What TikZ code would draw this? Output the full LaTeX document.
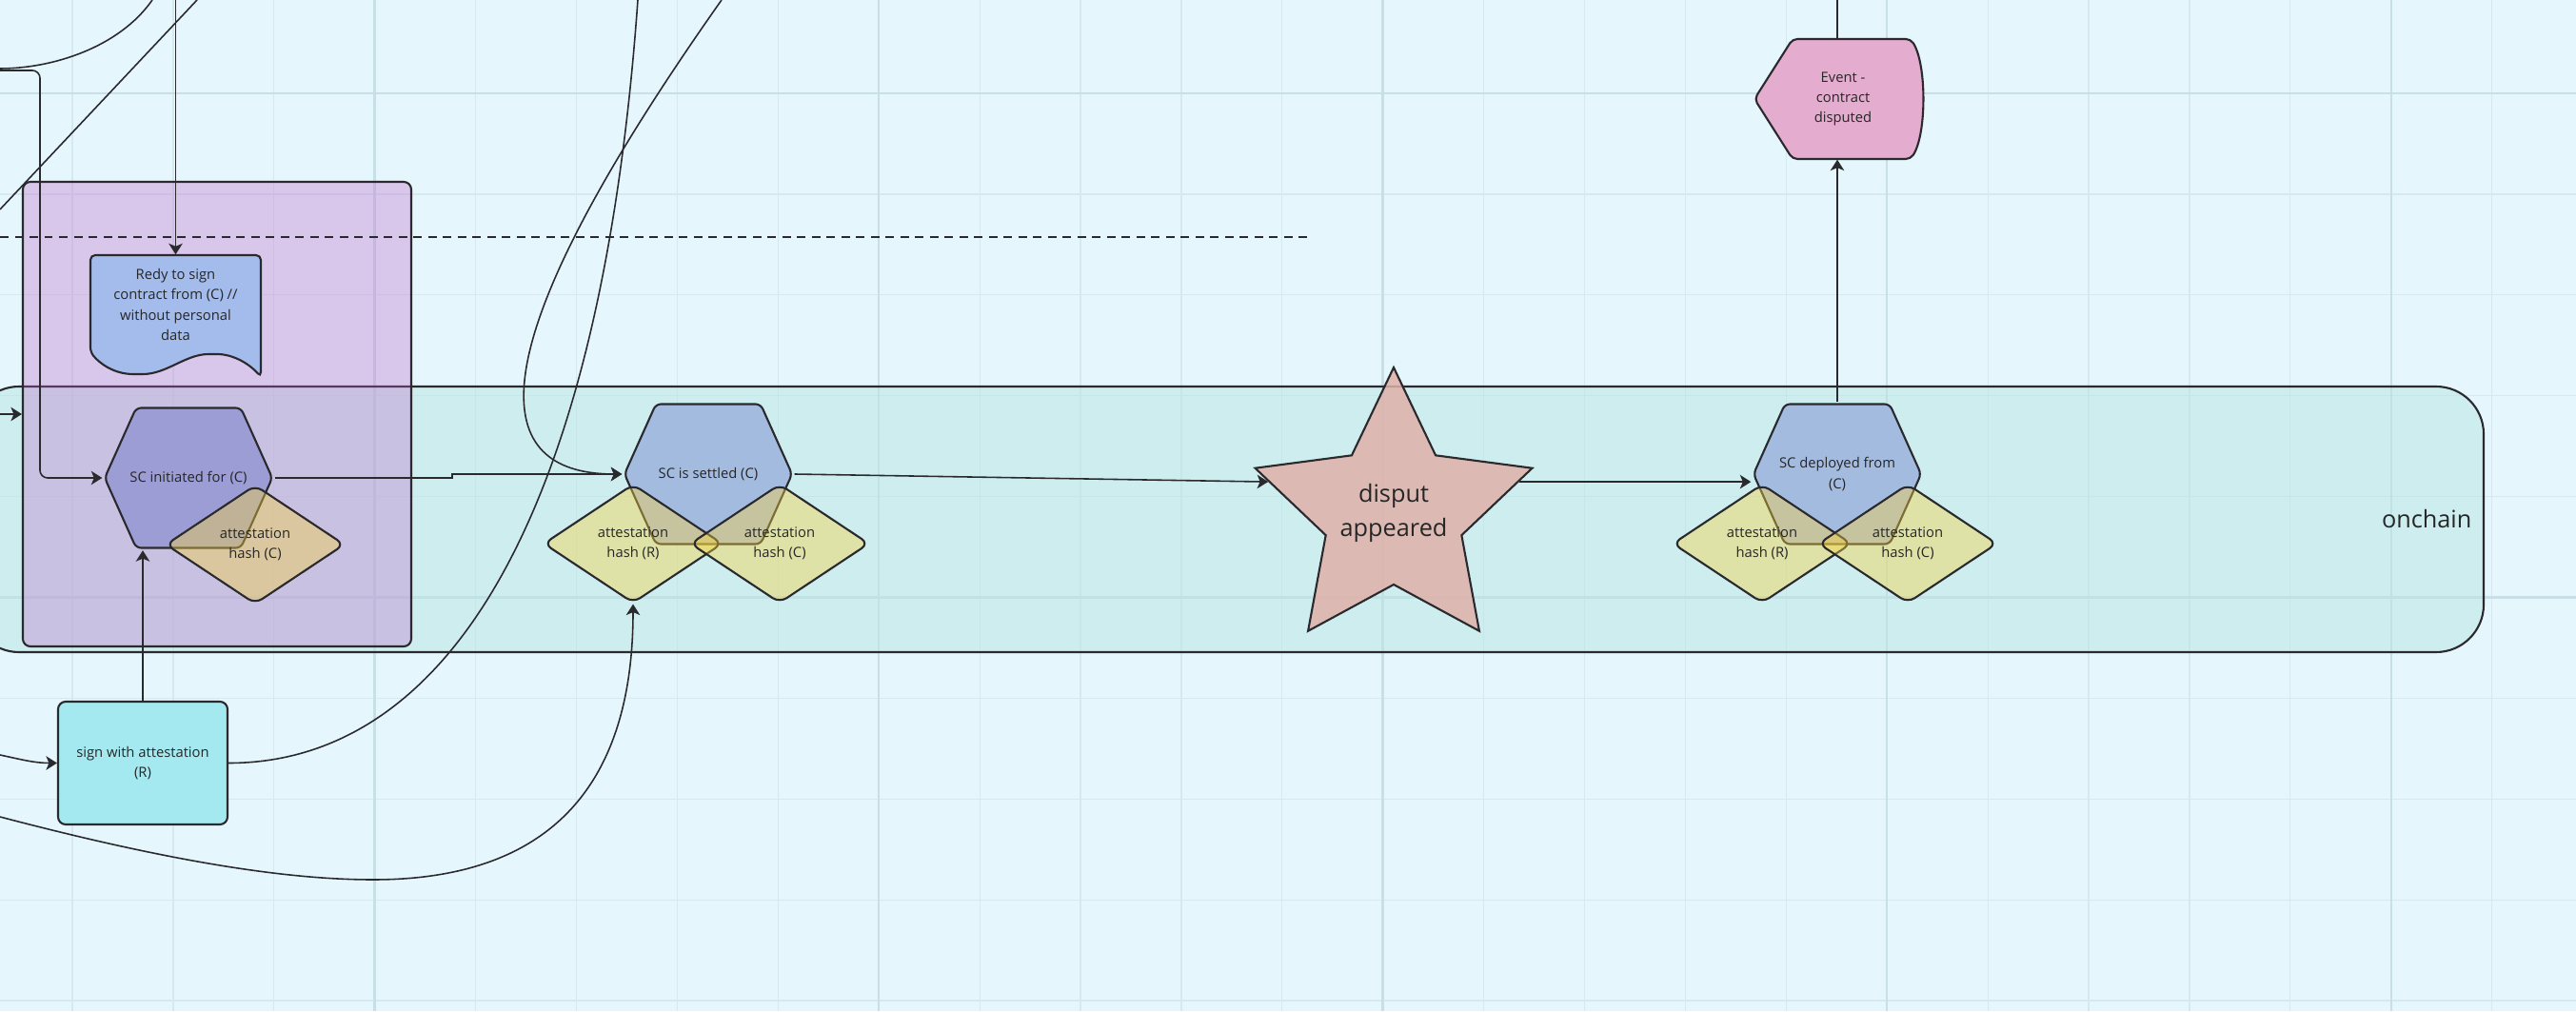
\documentclass[tikz,border=0pt]{standalone}
\usepackage{fontspec}
\setmainfont{Open Sans}
\usetikzlibrary{arrows.meta,positioning,shapes.geometric}

\definecolor{canvasblue}{HTML}{E5F6FC}
\definecolor{gridthin}{HTML}{D5E9F0}
\definecolor{gridthick}{HTML}{C9DFE7}
\definecolor{chainteal}{HTML}{B9E6E4}
\definecolor{walletviolet}{HTML}{BD5DC7}
\definecolor{initviolet}{HTML}{9C9DD4}
\definecolor{contractblue}{HTML}{A4BBE0}
\definecolor{readyblue}{HTML}{A4BCEC}
\definecolor{hashyellow}{HTML}{F7D23C}
\definecolor{signcyan}{HTML}{A5E9F0}
\definecolor{disputrose}{HTML}{DFB1A8}
\definecolor{eventpink}{HTML}{E4ACCE}
\definecolor{ink}{HTML}{2A2A2E}

\begin{document}
\begin{tikzpicture}[
    tinytext/.style={font=\fontsize{4.2}{6}\selectfont, text=black!85},
    bigtext/.style={font=\fontsize{7.2}{10.2}\selectfont, text=black!85},
    thingrid/.style={draw=gridthin, line width=0.35pt},
    thickgrid/.style={draw=gridthick, line width=0.7pt},
    chainlane/.style={
        draw=ink,
        fill=chainteal,
        fill opacity=0.5,
        rounded corners=0.5cm,
        line width=0.6pt,
        minimum width=26.39cm,
        minimum height=2.79cm
    },
    walletbox/.style={
        draw=ink,
        fill=walletviolet,
        fill opacity=0.3,
        rounded corners=0.08cm,
        line width=0.6pt,
        minimum width=4.08cm,
        minimum height=4.88cm
    },
    hexline/.style={draw=ink, line width=0.6pt, rounded corners=1.5pt},
    contracthex/.style={
        minimum width=1.80cm,
        minimum height=1.51cm,
        inner sep=0pt,
        align=center,
        tinytext,
        path picture={
            \filldraw[hexline, fill=#1]
                ([xshift=0.02cm]path picture bounding box.west)
                -- ([xshift=0.35cm, yshift=-0.02cm]path picture bounding box.north west)
                -- ([xshift=-0.35cm, yshift=-0.02cm]path picture bounding box.north east)
                -- ([xshift=-0.02cm]path picture bounding box.east)
                -- ([xshift=-0.35cm, yshift=0.02cm]path picture bounding box.south east)
                -- ([xshift=0.35cm, yshift=0.02cm]path picture bounding box.south west)
                -- cycle;
        }
    },
    contracthex/.default=contractblue,
    hashdiamond/.style={
        diamond,
        aspect=1.5,
        draw=ink,
        fill=hashyellow,
        fill opacity=0.4,
        text opacity=1,
        rounded corners=2.5pt,
        line width=0.6pt,
        minimum width=1.88cm,
        minimum height=1.25cm,
        inner sep=0pt,
        align=center,
        tinytext
    },
    signbox/.style={
        draw=ink,
        fill=signcyan,
        rounded corners=0.08cm,
        line width=0.6pt,
        minimum width=1.78cm,
        minimum height=1.29cm,
        align=center,
        tinytext
    },
    disputstar/.style={
        star,
        star points=5,
        star point ratio=2.04,
        draw=ink,
        fill=disputrose,
        fill opacity=0.85,
        text opacity=1,
        line width=0.6pt,
        minimum size=3.06cm,
        inner sep=-0.05cm,
        align=center,
        bigtext
    },
    shapeline/.style={draw=ink, line width=0.6pt, rounded corners=0.05cm},
    shapetext/.style={inner sep=0pt, align=center, tinytext},
    link/.style={draw=ink, line width=0.45pt},
    arrow/.style={link, -{Stealth[length=1.15mm, width=1.45mm, inset=0.3mm]}},
    divider/.style={draw=ink, line width=0.5pt, dash pattern=on 0.09cm off 0.065cm}
]
\useasboundingbox (0,0) rectangle (27.06,10.62);
\clip (0,0) rectangle (27.06,10.62);
\fill[canvasblue] (0,0) rectangle (27.06,10.62);
\foreach \gx in {0.76,1.819,...,27} \draw[thingrid] (\gx,0) -- (\gx,10.62);
\foreach \gy in {0.109,1.168,...,10.62} \draw[thingrid] (0,\gy) -- (27.06,\gy);
\foreach \gx in {3.937,9.232,...,27} \draw[thickgrid] (\gx,0) -- (\gx,10.62);
\foreach \gy in {4.345,9.64} \draw[thickgrid] (0,\gy) -- (27.06,\gy);

\node[chainlane] (onchain) at (12.895,5.165) {};
\node[walletbox] (wallet) at (2.28,6.27) {};
\node[disputstar] (disput) at (14.64,5.23) {disput\\appeared};
\node[bigtext, inner sep=0pt, left=0.13cm of onchain.east] (onchainlabel) {onchain};

\filldraw[shapeline, fill=readyblue] (0.95,7.94) -- (2.74,7.94) -- (2.74,6.66)
    .. controls (2.60,6.82) and (2.42,6.90) .. (2.24,6.90)
    .. controls (1.95,6.90) and (1.75,6.69) .. (1.45,6.69)
    .. controls (1.20,6.69) and (1.05,6.80) .. (0.95,6.92) -- cycle;
\node[shapetext, minimum width=1.79cm, minimum height=1.04cm] (ready) at (1.845,7.42) {Redy to sign\\contract from (C) //\\without personal\\data};

\node[contracthex=initviolet] (init) at (1.98,5.60) {SC initiated for (C)};
\node[contracthex] (settled) at (7.44,5.64) {SC is settled (C)};
\node[contracthex] (deployed) at (19.30,5.64) {SC deployed from\\(C)};

\node[hashdiamond] (inithashC) at ([shift={(0.70,-0.70)}]init.center) {attestation\\hash (C)};
\node[hashdiamond] (settledhashR) at ([shift={(-0.79,-0.73)}]settled.center) {attestation\\hash (R)};
\node[hashdiamond] (settledhashC) at ([shift={(0.75,-0.73)}]settled.center) {attestation\\hash (C)};
\node[hashdiamond] (deployedhashR) at ([shift={(-0.79,-0.73)}]deployed.center) {attestation\\hash (R)};
\node[hashdiamond] (deployedhashC) at ([shift={(0.74,-0.73)}]deployed.center) {attestation\\hash (C)};

\node[signbox] (sign) at (1.50,2.605) {sign with attestation\\(R)};

\filldraw[shapeline, fill=eventpink] (18.83,10.21) -- (20.07,10.21)
    .. controls (20.24,9.95) and (20.24,9.21) .. (20.07,8.95) -- (18.83,8.95) -- (18.43,9.58) -- cycle;
\node[shapetext, minimum height=1.26cm] (event) at (19.36,9.58) {Event -\\contract\\disputed};

\coordinate (topedge) at (0,10.62);
\coordinate (dividerstart) at (0,8.13);
\coordinate (dividerend) at (13.74,8.13);
\coordinate (offA1) at (1.60,10.62);
\coordinate (offA2) at (0,9.90);
\coordinate (offB1) at (2.07,10.62);
\coordinate (offB2) at (0,8.42);
\coordinate (initfeed) at (0,9.88);
\coordinate (walletfeed) at (0,6.27);
\coordinate (signfeed) at (0,2.69);
\coordinate (signexit) at (6.70,10.62);
\coordinate (settlefeed) at (7.58,10.62);
\coordinate (hashfeed) at (0,2.04);
\coordinate (hashlow) at (3.92,1.38);

\draw[divider] (dividerstart) -- (dividerend);
\draw[link] (offA1) .. controls (1.25,10.12) and (0.55,9.90) .. (offA2);
\draw[link] (offB1) -- (offB2);
\draw[arrow, rounded corners=0.08cm] (initfeed) -- ++(0.42,0) |- (init.west);
\draw[arrow] (ready.north |- topedge) -- (ready.north);
\draw[arrow] (walletfeed) -- (wallet.west);
\draw[arrow] (signfeed) to[out=-12, in=180] (sign.west);
\draw[link] (sign.east) .. controls +(2.21,0) and (6.3,5.0) .. (signexit);
\draw[arrow] (settlefeed) .. controls (4.6,6.4) and (5.4,5.64) .. (settled.west);
\draw[arrow] (hashfeed) .. controls (1.6,1.62) and (2.9,1.38) .. (hashlow)
    .. controls +(1.88,0) and +(0,-1.88) .. (settledhashR.south);
\draw[arrow] (sign.north) -- (sign.north |- init.south);
\draw[arrow] (init.east) -- ++(1.86,0) |- (settled.west);
\draw[arrow] (settled.east) -- (disput.166.6);
\draw[arrow] (disput.14) -- (disput.14 -| deployed.west);
\draw[arrow] (deployed.north) -- (deployed.north |- event.south);
\draw[link] (deployed.north |- event.north) -- (deployed.north |- topedge);
\end{tikzpicture}
\end{document}
